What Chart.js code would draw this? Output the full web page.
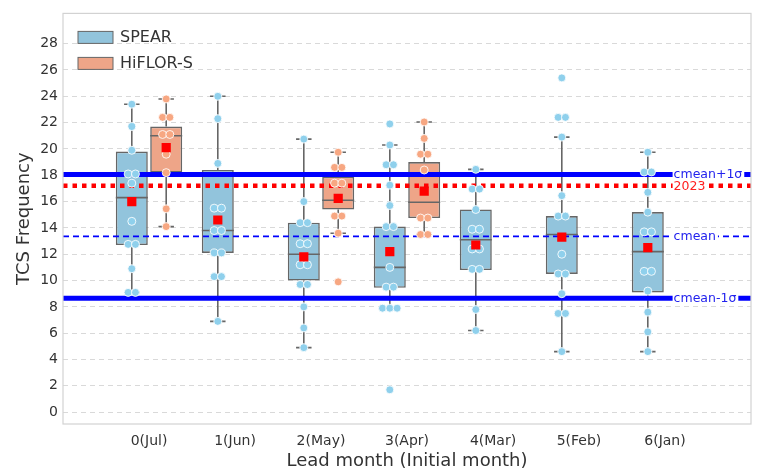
<!DOCTYPE html>
<html>
<head>
<meta charset="utf-8">
<script src="https://cdn.jsdelivr.net/npm/chart.js@4/dist/chart.umd.min.js"></script>
<style>
  html, body { margin: 0; background: #fff; }
  #wrap { width: 759px; height: 476px; }
</style>
</head>
<body>
<div id="wrap"><canvas id="chart"></canvas></div>
<script>
// ---------- data ----------
const leadLabels = ["0(Jul)", "1(Jun)", "2(May)", "3(Apr)", "4(Mar)", "5(Feb)", "6(Jan)"];
const yTicks = [0, 2, 4, 6, 8, 10, 12, 14, 16, 18, 20, 22, 24, 26, 28];

// SPEAR box stats
const spearLow  = [9.1, 6.9, 4.9, 7.9, 6.2, 4.6, 4.6];
const spearQ1   = [12.7, 12.1, 10.0, 9.45, 10.8, 10.5, 9.1];
const spearMed  = [16.3, 13.8, 12.0, 11.0, 13.1, 13.5, 12.2];
const spearQ3   = [19.8, 18.4, 14.4, 14.1, 15.4, 14.9, 15.2];
const spearHigh = [23.4, 24.0, 20.75, 20.3, 18.45, 20.9, 19.75];
const spearMean = [16.0, 14.6, 11.8, 12.2, 12.7, 13.3, 12.5];
const spearPoints = [
  [23.4, 21.7, 19.9, 18.1, 18.1, 17.4, 14.5, 12.75, 12.75, 10.9, 9.1, 9.1],
  [24.0, 22.3, 18.9, 15.5, 15.5, 13.8, 13.8, 12.1, 12.1, 10.3, 10.3, 6.9],
  [20.75, 16.0, 14.4, 14.4, 12.8, 12.8, 11.2, 11.2, 9.7, 9.7, 8.0, 6.4, 4.9],
  [21.9, 20.3, 18.8, 18.8, 17.25, 15.7, 14.1, 14.1, 11.0, 9.5, 9.5, 7.9, 7.9, 7.9, 1.7],
  [18.45, 16.95, 16.95, 15.4, 13.9, 13.9, 12.4, 12.4, 10.85, 10.85, 7.8, 6.2],
  [25.4, 22.4, 22.4, 20.9, 16.45, 14.9, 14.9, 12.0, 10.5, 10.5, 9.0, 7.5, 7.5, 4.6],
  [19.75, 18.25, 18.25, 16.7, 15.2, 13.7, 13.7, 10.7, 10.7, 9.2, 7.6, 6.1, 4.6],
];

// HiFLOR-S box stats (only three lead months)
const hiflorLow  = [14.1, null, 13.6, 13.5, null, null, null];
const hiflorQ1   = [18.2, null, 15.4, 14.75, null, null, null];
const hiflorMed  = [21.0, null, 16.1, 15.95, null, null, null];
const hiflorQ3   = [21.7, null, 17.9, 19.0, null, null, null];
const hiflorHigh = [23.8, null, 19.75, 22.05, null, null, null];
const hiflorMean = [20.1, null, 16.25, 16.8, null, null, null];
const hiflorPoints = [
  [23.8, 22.4, 22.4, 21.1, 21.1, 19.6, 18.2, 15.45, 14.1],
  [],
  [19.75, 18.6, 18.6, 17.4, 17.4, 14.9, 14.9, 13.6, 9.9],
  [22.05, 20.8, 19.6, 19.6, 18.4, 14.75, 14.75, 13.5, 13.5],
  [], [], [],
];

// reference lines
const cmean = 13.36;
const cmeanPlus = 18.06;
const cmeanMinus = 8.66;
const obs2023 = 17.2;

// ---------- styling ----------
const BLUE_BOX = "#92c4dc";
const SALMON_BOX = "#eea588";
const BLUE_PT = "#8fd0ec";
const SALMON_PT = "#f7a782";
const EDGE = "#666666";
const TEXT = "#333333";
const FONT = "'DejaVu Sans', sans-serif";

const OFFSET = 0.2;      // dodge of each hue from the category centre
const HALF_BOX = 0.186;  // half box width in x units
const HALF_CAP = 0.09;   // half whisker cap width

// ---------- helpers ----------
function boxData(q1, q3) {
  return q1.map((v, i) => ({ x: i, y: v == null ? null : [v, q3[i]] }));
}

function whiskerData(low, q1, q3, high, dx) {
  const out = [];
  low.forEach((lo, i) => {
    if (lo == null) return;
    const c = i + dx;
    out.push({ x: c, y: lo }, { x: c, y: q1[i] }, { x: c, y: null });
    out.push({ x: c, y: q3[i] }, { x: c, y: high[i] }, { x: c, y: null });
    out.push({ x: c - HALF_CAP, y: lo }, { x: c + HALF_CAP, y: lo }, { x: c, y: null });
    out.push({ x: c - HALF_CAP, y: high[i] }, { x: c + HALF_CAP, y: high[i] }, { x: c, y: null });
  });
  return out;
}

function medianData(med, dx) {
  const out = [];
  med.forEach((m, i) => {
    if (m == null) return;
    const c = i + dx;
    out.push({ x: c - HALF_BOX, y: m }, { x: c + HALF_BOX, y: m }, { x: c, y: null });
  });
  return out;
}

// spread identical values a little sideways, like a swarm
function pointData(groups, dx) {
  const out = [];
  groups.forEach((vals, i) => {
    const counts = {};
    vals.forEach((v) => { counts[v] = (counts[v] || 0) + 1; });
    const seen = {};
    vals.forEach((v) => {
      const n = counts[v];
      const k = seen[v] = (seen[v] || 0) + 1;
      const shift = (k - 1 - (n - 1) / 2) * 0.085;
      out.push({ x: i + dx + shift, y: v });
    });
  });
  return out;
}

function meanData(means, dx) {
  return means.map((m, i) => (m == null ? null : { x: i + dx, y: m })).filter(Boolean);
}

function hLine(y) {
  return [{ x: -1, y }, { x: 7, y }];
}

// ---------- plugins ----------
const framePlugin = {
  id: "frame",
  afterDraw(chart) {
    const { ctx, chartArea: a } = chart;
    ctx.save();
    ctx.strokeStyle = "#d2d2d2";
    ctx.lineWidth = 1.2;
    ctx.strokeRect(a.left, a.top, a.right - a.left, a.bottom - a.top);
    ctx.restore();
  },
};

const refLabelPlugin = {
  id: "refLabels",
  afterDatasetsDraw(chart) {
    const { ctx } = chart;
    const y = chart.scales.y;
    const x = chart.scales.x;
    const left = x.getPixelForValue(6.1);
    const items = [
      { v: cmeanPlus, text: "cmean+1\u03c3", color: "#2222ee" },
      { v: obs2023, text: "2023", color: "#ff2020" },
      { v: cmean, text: "cmean", color: "#2222ee" },
      { v: cmeanMinus, text: "cmean-1\u03c3", color: "#2222ee" },
    ];
    ctx.save();
    ctx.font = "12.5px " + FONT;
    ctx.textBaseline = "middle";
    items.forEach((it) => {
      const py = y.getPixelForValue(it.v);
      const w = ctx.measureText(it.text).width;
      ctx.fillStyle = "#ffffff";
      ctx.fillRect(left - 1, py - 6, w + 3, 12);
      ctx.fillStyle = it.color;
      ctx.fillText(it.text, left, py + 0.5);
    });
    ctx.restore();
  },
};

const legendPlugin = {
  id: "boxLegend",
  afterDraw(chart) {
    const { ctx, chartArea: a } = chart;
    const rows = [
      { label: "SPEAR", fill: BLUE_BOX },
      { label: "HiFLOR-S", fill: SALMON_BOX },
    ];
    ctx.save();
    ctx.font = "16px " + FONT;
    ctx.textBaseline = "middle";
    rows.forEach((r, i) => {
      const top = a.top + 18 + i * 26;
      ctx.fillStyle = r.fill;
      ctx.fillRect(a.left + 15, top, 35, 12);
      ctx.strokeStyle = EDGE;
      ctx.lineWidth = 1;
      ctx.strokeRect(a.left + 15, top, 35, 12);
      ctx.fillStyle = TEXT;
      ctx.fillText(r.label, a.left + 57, top + 6);
    });
    ctx.restore();
  },
};

// ---------- chart ----------
const lineBase = { type: "line", pointRadius: 0, spanGaps: false, fill: false, tension: 0 };

new Chart(document.getElementById("chart"), {
  type: "bar",
  data: {
    datasets: [
      {
        label: "SPEAR means", type: "scatter", data: meanData(spearMean, -OFFSET),
        pointStyle: "rect", pointRadius: 6.5, backgroundColor: "#ff0000", borderWidth: 0, order: 0,
      },
      {
        label: "HiFLOR means", type: "scatter", data: meanData(hiflorMean, OFFSET),
        pointStyle: "rect", pointRadius: 6.5, backgroundColor: "#ff0000", borderWidth: 0, order: 0,
      },
      {
        label: "SPEAR members", type: "scatter", data: pointData(spearPoints, -OFFSET),
        pointRadius: 4, backgroundColor: BLUE_PT, borderColor: "rgba(255,255,255,0.85)", borderWidth: 1, order: 1,
      },
      {
        label: "HiFLOR members", type: "scatter", data: pointData(hiflorPoints, OFFSET),
        pointRadius: 4, backgroundColor: SALMON_PT, borderColor: "rgba(255,255,255,0.85)", borderWidth: 1, order: 1,
      },
      { ...lineBase, label: "cmean+1s", data: hLine(cmeanPlus), borderColor: "#0000ff", borderWidth: 5, order: 2 },
      { ...lineBase, label: "2023", data: hLine(obs2023), borderColor: "#ff0000", borderWidth: 4.5, borderDash: [4.5, 5], borderCapStyle: "butt", order: 2 },
      { ...lineBase, label: "cmean", data: hLine(cmean), borderColor: "#0000ff", borderWidth: 1.8, borderDash: [6, 4], order: 2 },
      { ...lineBase, label: "cmean-1s", data: hLine(cmeanMinus), borderColor: "#0000ff", borderWidth: 5, order: 2 },
      { ...lineBase, label: "SPEAR median", data: medianData(spearMed, -OFFSET), borderColor: EDGE, borderWidth: 1.6, order: 3 },
      { ...lineBase, label: "HiFLOR median", data: medianData(hiflorMed, OFFSET), borderColor: EDGE, borderWidth: 1.6, order: 3 },
      {
        label: "SPEAR", data: boxData(spearQ1, spearQ3), backgroundColor: BLUE_BOX, borderColor: EDGE,
        borderWidth: 1.6, borderSkipped: false, categoryPercentage: 0.8, barPercentage: 0.93, order: 4,
      },
      {
        label: "HiFLOR-S", data: boxData(hiflorQ1, hiflorQ3), backgroundColor: SALMON_BOX, borderColor: EDGE,
        borderWidth: 1.6, borderSkipped: false, categoryPercentage: 0.8, barPercentage: 0.93, order: 4,
      },
      { ...lineBase, label: "SPEAR whisker", data: whiskerData(spearLow, spearQ1, spearQ3, spearHigh, -OFFSET), borderColor: EDGE, borderWidth: 1.6, order: 5 },
      { ...lineBase, label: "HiFLOR whisker", data: whiskerData(hiflorLow, hiflorQ1, hiflorQ3, hiflorHigh, OFFSET), borderColor: EDGE, borderWidth: 1.6, order: 5 },
    ],
  },
  options: {
    responsive: true,
    maintainAspectRatio: false,
    animation: false,
    layout: { padding: { top: 7, right: 8, left: 14, bottom: 0 } },
    plugins: { legend: { display: false }, tooltip: { enabled: false } },
    scales: {
      x: {
        type: "linear",
        min: -1,
        max: 7,
        offset: false,
        afterBuildTicks: (s) => { s.ticks = leadLabels.map((_, i) => ({ value: i })); },
        afterFit: (s) => { s.height = 52; },
        ticks: {
          callback: (v) => leadLabels[v] ?? "",
          font: { family: FONT, size: 14 },
          color: TEXT,
          maxRotation: 0,
          padding: 1,
        },
        grid: { display: false, offset: false },
        border: { display: false },
        title: {
          display: true,
          text: "Lead month (Initial month)",
          font: { family: FONT, size: 18 },
          color: TEXT,
          padding: { top: 0, bottom: 4 },
        },
      },
      y: {
        min: -0.9,
        max: 30.3,
        afterBuildTicks: (s) => { s.ticks = yTicks.map((v) => ({ value: v })); },
        afterFit: (s) => { s.width = 49; },
        ticks: {
          font: { family: FONT, size: 14 },
          color: TEXT,
          padding: 5,
        },
        grid: { color: "#d9d9d9", lineWidth: 1, tickLength: 0 },
        border: { display: false, dash: [5, 4] },
        title: {
          display: true,
          text: "TCS Frequency",
          font: { family: FONT, size: 18 },
          color: TEXT,
          padding: { top: 0, bottom: 0 },
        },
      },
    },
  },
  plugins: [framePlugin, refLabelPlugin, legendPlugin],
});
</script>
</body>
</html>
